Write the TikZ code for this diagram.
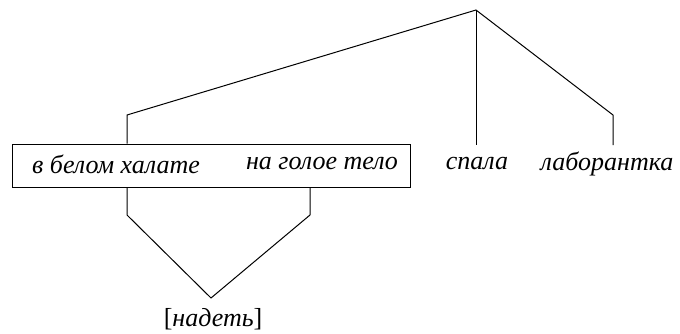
\documentclass[tikz,border=0pt]{standalone}
\usepackage{fontspec}
\setmainfont{Liberation Serif}
\usetikzlibrary{positioning, fit}
\tikzset{x=0.5pt, y=-0.5pt, % One unit is one pixel of the layout
every path/.style={line width=0.5pt}, % Thin tree lines
word/.style={ % Sets the properties for each word
font=\fontsize{13}{15}\selectfont\itshape,
inner sep=0pt},
groupbox/.style={ % Frame round the two phrases
draw, inner sep=0pt}}

\begin{document}
\begin{tikzpicture}
    \useasboundingbox (0,0) rectangle (680,333);
    \coordinate (top) at (476,10);
    \coordinate (lbend) at (127,115);
    \coordinate (rbend) at (613,115);
    \coordinate (mfoot) at (476,145);
    \coordinate (rfoot) at (613,145);
    \coordinate (dl) at (127,215);
    \coordinate (dr) at (310,215);
    \coordinate (vtip) at (211,298);
    \node[word] (vbelom) at (116,164) {в белом халате};
    \node[word] (nagoloe) at (322,164) {на голое тело};
    \node[groupbox, fit={(12,144) (410,187)}] (grp) {};
    \node[word] (spala) at (477,164) {спала};
    \node[word] (lab) at (607,164) {лаборантка};
    \node[word, font=\fontsize{13}{15}\selectfont] (nadet) at (213,319) {[\textit{надеть}]};
    \draw (lbend |- grp.north) -- (lbend) -- (top) -- (rbend) -- (rfoot);
    \draw (top) -- (mfoot);
    \draw (dl |- grp.south) -- (dl) -- (vtip) -- (dr) -- (dr |- grp.south);
\end{tikzpicture}
\end{document}
